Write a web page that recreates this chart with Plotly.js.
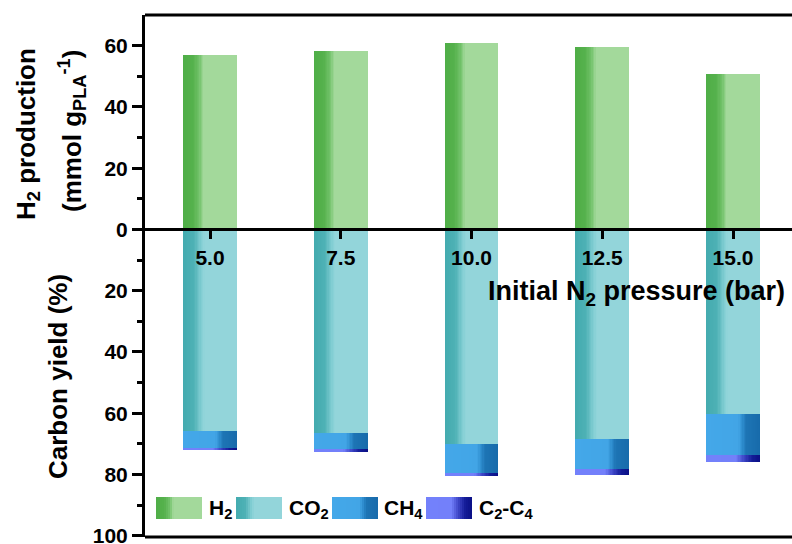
<!DOCTYPE html>
<html>
<head>
<meta charset="utf-8">
<script src="https://cdn.plot.ly/plotly-3.0.1.min.js"></script>
<style>html,body{margin:0;padding:0;background:#fff;}#chart{width:792px;height:544px;}</style>
</head>
<body>
<div id="chart"></div>
<script>
// ---- data ----
const pressure = [5.0, 7.5, 10.0, 12.5, 15.0];
const pressureLabels = ['5.0', '7.5', '10.0', '12.5', '15.0'];
const h2Production = [57.1, 58.4, 61.0, 59.7, 50.9];   // mmol g-1 PLA
const co2Yield = [65.9, 66.6, 70.1, 68.5, 60.4];       // carbon yield %
const ch4Yield = [5.3, 5.2, 9.4, 9.8, 13.3];
const c2c4Yield = [0.8, 0.9, 1.0, 1.9, 2.2];
const yTickVals = [-100, -80, -60, -40, -20, 0, 20, 40, 60];
const yTickText = ['100', '80', '60', '40', '20', '0', '20', '40', '60'];
const legendNames = ['H<sub>2</sub>', 'CO<sub>2</sub>', 'CH<sub>4</sub>', 'C<sub>2</sub>-C<sub>4</sub>'];

// ---- styles ----
const FONT = 'Liberation Sans, Arial, Helvetica, sans-serif';
const profiles = [
  [[0, '#4fae47'], [0.18, '#55b14c'], [0.30, '#72c26a'], [0.38, '#a3d99b'], [1, '#a3d99b']],
  [[0, '#43abaf'], [0.20, '#4eb1b5'], [0.33, '#80cdd2'], [0.40, '#93d5da'], [1, '#93d5da']],
  [[0, '#44a8e9'], [0.60, '#42a5e6'], [0.68, '#2d8bcd'], [0.75, '#1d74b4'], [1, '#176aab']],
  [[0, '#7381fb'], [0.55, '#7380fa'], [0.70, '#3f47c8'], [0.85, '#141c98'], [1, '#0a0f85']]
];
function hex2rgb(h) { return [1, 3, 5].map(i => parseInt(h.substr(i, 2), 16)); }
function colorAt(profile, t) {
  for (let i = 0; i < profile.length - 1; i++) {
    const [t0, c0] = profile[i], [t1, c1] = profile[i + 1];
    if (t >= t0 && t <= t1) {
      const f = (t - t0) / (t1 - t0 || 1);
      const a = hex2rgb(c0), b = hex2rgb(c1);
      const c = a.map((v, k) => Math.round(v + (b[k] - v) * f));
      return 'rgb(' + c.join(',') + ')';
    }
  }
  return profile[profile.length - 1][1];
}

// ---- series geometry derived from data ----
const neg = a => a.map(v => -v);
const zeros = pressure.map(() => 0);
const series = [
  { y: h2Production, base: zeros },
  { y: neg(co2Yield), base: zeros },
  { y: neg(ch4Yield), base: neg(co2Yield) },
  { y: neg(c2c4Yield), base: co2Yield.map((v, i) => -(v + ch4Yield[i])) }
];

const W = 1.03;      // bar width in x units
const K = 40;        // gradient stripes
const traces = [];
series.forEach((s, si) => {
  for (let k = 0; k < K; k++) {
    const st = k / K;
    traces.push({
      type: 'bar', x: pressure, y: s.y, base: s.base,
      width: W * (1 - st), offset: -W / 2 + W * st,
      marker: { color: colorAt(profiles[si], st + 0.5 / K), line: { width: 0 } },
      hoverinfo: 'skip', showlegend: false
    });
  }
});

// ---- layout helpers (pixel -> paper) ----
const L = 145, R = 792, T = 15, B = 537;
const px = x => (x - L) / (R - L);
const py = y => (B - y) / (B - T);

const shapes = [
  { type: 'line', xref: 'paper', yref: 'paper', x0: 0, x1: 1, y0: 1, y1: 1, line: { color: 'black', width: 3 } },
  { type: 'line', xref: 'paper', yref: 'paper', x0: 0, x1: 1, y0: 0, y1: 0, line: { color: 'black', width: 3 } }
];
const swatchLeft = [156, 236, 332, 426];
const textLeft = [207, 287, 382, 477];
const swW = 46, swTop = 497, swBot = 519;
const annotations = [];
profiles.forEach((p, i) => {
  const KS = 23;
  for (let k = 0; k < KS; k++) {
    const st = k / KS;
    shapes.push({
      type: 'rect', xref: 'paper', yref: 'paper',
      x0: px(swatchLeft[i] + swW * st), x1: px(swatchLeft[i] + swW),
      y0: py(swBot), y1: py(swTop),
      fillcolor: colorAt(p, st + 0.5 / KS), line: { width: 0 }
    });
  }
  annotations.push({
    xref: 'paper', yref: 'paper', x: px(textLeft[i]), y: py(509),
    xanchor: 'left', yanchor: 'middle', showarrow: false,
    text: legendNames[i], font: { family: FONT, size: 21, color: 'black', weight: 'bold' }
  });
});
annotations.push(
  { xref: 'paper', yref: 'paper', x: px(787), y: py(293), xanchor: 'right', yanchor: 'middle', showarrow: false,
    text: 'Initial N<sub>2</sub> pressure (bar)', font: { family: FONT, size: 27, color: 'black', weight: 'bold' } },
  { xref: 'paper', yref: 'paper', x: px(27), y: py(134), xanchor: 'center', yanchor: 'middle', showarrow: false, textangle: -90,
    text: 'H<sub>2</sub> production', font: { family: FONT, size: 26, color: 'black', weight: 'bold' } },
  { xref: 'paper', yref: 'paper', x: px(72), y: py(131), xanchor: 'center', yanchor: 'middle', showarrow: false, textangle: -90,
    text: '(mmol g<sub>PLA</sub><sup>-1</sup>)', font: { family: FONT, size: 26, color: 'black', weight: 'bold' } },
  { xref: 'paper', yref: 'paper', x: px(58), y: py(377), xanchor: 'center', yanchor: 'middle', showarrow: false, textangle: -90,
    text: 'Carbon yield (%)', font: { family: FONT, size: 26, color: 'black', weight: 'bold' } }
);

const layout = {
  width: 792, height: 544,
  margin: { l: L, r: 792 - R, t: T, b: 544 - B },
  paper_bgcolor: 'white', plot_bgcolor: 'white',
  barmode: 'overlay', bargap: 0,
  showlegend: false,
  font: { family: FONT, color: 'black' },
  xaxis: {
    range: [3.757, 16.128], anchor: 'free', position: 100.4 / 170.4,
    showline: true, linecolor: 'black', linewidth: 3,
    showgrid: false, zeroline: false,
    tickmode: 'array', tickvals: pressure, ticktext: pressureLabels,
    ticks: 'outside', ticklen: 8, tickwidth: 3, tickcolor: 'black',
    tickfont: { family: FONT, size: 21, color: 'black', weight: 'bold' }
  },
  yaxis: {
    range: [-100.4, 70], anchor: 'x',
    showline: true, linecolor: 'black', linewidth: 3,
    showgrid: false, zeroline: false,
    tickmode: 'array', tickvals: yTickVals, ticktext: yTickText,
    ticklabeloverflow: 'allow',
    ticks: 'outside', ticklen: 10, tickwidth: 3, tickcolor: 'black',
    tickfont: { family: FONT, size: 21, color: 'black', weight: 'bold' },
    minor: { tickmode: 'array', tickvals: [-90, -70, -50, -30, -10, 10, 30, 50], ticks: 'outside', ticklen: 5, tickwidth: 3, tickcolor: 'black', showgrid: false }
  },
  shapes: shapes,
  annotations: annotations
};

Plotly.newPlot('chart', traces, layout, { staticPlot: true, displayModeBar: false });
</script>
</body>
</html>
